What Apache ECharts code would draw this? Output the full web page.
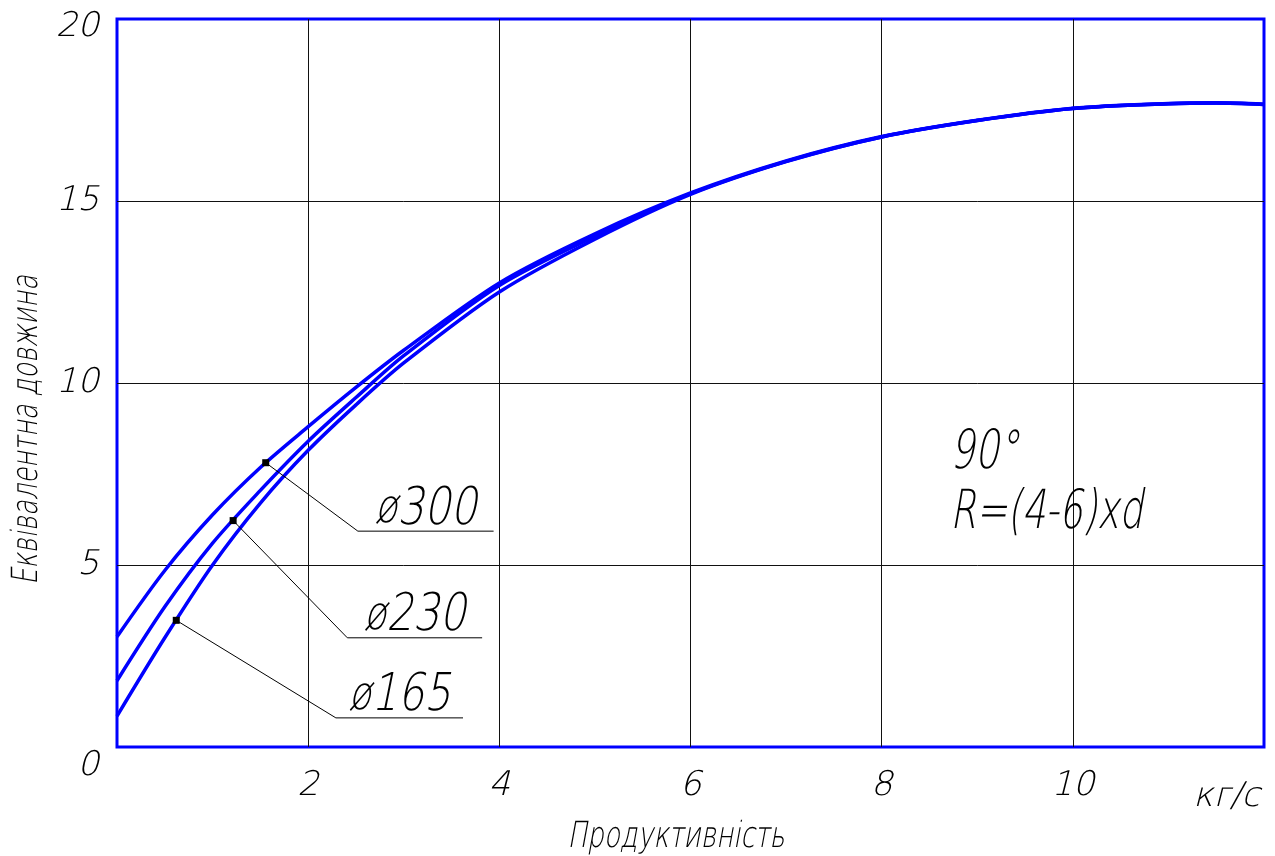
<!DOCTYPE html>
<html>
<head>
<meta charset="utf-8">
<script src="https://cdn.jsdelivr.net/npm/echarts@6/dist/echarts.min.js"></script>
<style>
html,body{margin:0;padding:0;background:#fff;}
#chart{width:1275px;height:856px;}
</style>
</head>
<body>
<div id="chart"></div>
<script>
// ---- data ----
const x300 = [0, 0.5, 1, 1.5, 2, 2.5, 3, 4, 5, 6, 7, 8, 9, 10, 11, 11.5, 12];
const y300 = [3.03, 4.85, 6.38, 7.68, 8.8, 9.88, 10.9, 12.75, 14.1, 15.22, 16.1, 16.77, 17.22, 17.55, 17.68, 17.7, 17.66];

const x230 = [0, 0.5, 1, 1.5, 2, 2.5, 3, 4, 5, 6, 7, 8, 9, 10, 11, 11.5, 12];
const y230 = [1.82, 3.85, 5.6, 7.05, 8.4, 9.6, 10.75, 12.68, 14.03, 15.2, 16.09, 16.76, 17.21, 17.54, 17.67, 17.69, 17.65];

const x165 = [0, 0.5, 1, 1.5, 2, 2.5, 3, 4, 5, 6, 7, 8, 9, 10, 11, 11.5, 12];
const y165 = [0.85, 3.0, 5.0, 6.7, 8.15, 9.4, 10.55, 12.5, 13.95, 15.18, 16.08, 16.76, 17.21, 17.54, 17.67, 17.69, 17.65];

const diamSign = 'ø';
const seriesNames = ['300', '230', '165'];
// leader annotations: [dot x, dot y, elbow x, elbow y, end x]
const leader300 = [1.556, 7.81, 2.52, 5.93, 3.94];
const leader230 = [1.215, 6.22, 2.41, 3.0, 3.82];
const leader165 = [0.62, 3.48, 2.29, 0.80, 3.62];

const xMin = 0, xMax = 12, xInterval = 2;
const yMin = 0, yMax = 20, yInterval = 5;

const xName = 'Продуктивність';
const yName = 'Еквівалентна довжина';
const unitText = 'кг/с';
const note1 = '90°';
const note2 = 'R=(4-6)xd';

// ---- build ----
const FONT = "'DejaVu Sans ExtraLight', 'DejaVu Sans Light', 'DejaVu Sans Condensed', 'DejaVu Sans', sans-serif";
const BLUE = '#0000ff';
const zip = (xs, ys) => xs.map((x, i) => [x, ys[i]]);

function curve(name, xs, ys) {
  return {
    name: diamSign + name, type: 'line', data: zip(xs, ys), smooth: 0.3,
    showSymbol: false, symbol: 'none', clip: true,
    lineStyle: { color: BLUE, width: 3.5 }, z: 3, silent: true
  };
}
function leader(L) {
  return [
    {
      type: 'line', data: [[L[0], L[1]], [L[2], L[3]], [L[4], L[3]]],
      symbol: 'none', lineStyle: { color: '#000', width: 1 }, z: 4, silent: true
    },
    {
      type: 'scatter', data: [[L[0], L[1]]], symbol: 'rect', symbolSize: 7,
      itemStyle: { color: '#000', opacity: 1 }, z: 5, silent: true
    }
  ];
}
function txt(text, x, y, size, sx, extra) {
  return Object.assign({
    type: 'text', x, y, scaleX: sx, silent: true, z: 10,
    style: Object.assign({
      text, font: "italic 200 " + size + "px " + FONT, fill: '#000',
      align: 'left', verticalAlign: 'top'
    }, (extra && extra.style) || {})
  }, extra ? { rotation: extra.rotation || 0 } : {});
}

const chart = echarts.init(document.getElementById('chart'), null, { renderer: 'canvas' });
const labelFont = { fontFamily: FONT, fontStyle: 'italic', fontWeight: 200, fontSize: 34, color: '#000' };
chart.setOption({
  backgroundColor: '#fff',
  animation: false,
  grid: {
    left: 117, right: 11, top: 19, bottom: 109, outerBoundsMode: 'none', containLabel: false,
    show: true, borderColor: BLUE, borderWidth: 3, backgroundColor: 'transparent'
  },
  xAxis: {
    type: 'value', min: xMin, max: xMax, interval: xInterval,
    axisLine: { show: false }, axisTick: { show: false },
    axisLabel: Object.assign({ showMinLabel: false, showMaxLabel: false, margin: 22 }, labelFont),
    splitLine: { show: true, showMinLine: false, showMaxLine: false, lineStyle: { color: '#111', width: 1 } }
  },
  yAxis: {
    type: 'value', min: yMin, max: yMax, interval: yInterval,
    axisLine: { show: false }, axisTick: { show: false },
    axisLabel: Object.assign({
      margin: 18,
      formatter: v => v === 0 ? '{z|0}' : (v === 20 ? '{t|20}' : String(v)),
      rich: {
        z: Object.assign({ padding: [38, 0, 0, 0] }, labelFont),
        t: Object.assign({ padding: [16, 0, 0, 0] }, labelFont)
      }
    }, labelFont),
    splitLine: { show: true, showMinLine: false, showMaxLine: false, lineStyle: { color: '#111', width: 1 } }
  },
  series: [
    curve(seriesNames[0], x300, y300),
    curve(seriesNames[1], x230, y230),
    curve(seriesNames[2], x165, y165),
    ...leader(leader300),
    ...leader(leader230),
    ...leader(leader165)
  ]
});

// texts (leader labels placed through the chart's own scales)
const graphics = [
  txt(unitText, 1193, 780, 34, 1.0),
  txt(note1, 950, 427, 54, 0.71),
  txt(note2, 950, 487, 54, 0.69),
  txt(xName, 676, 820, 36, 0.73, { style: { align: 'center' } }),
  txt(yName, 28, 430, 36, 0.715, { rotation: Math.PI / 2, style: { align: 'center', verticalAlign: 'middle' } })
];
[[seriesNames[0], leader300], [seriesNames[1], leader230], [seriesNames[2], leader165]].forEach(([name, L]) => {
  const p = chart.convertToPixel({ gridIndex: 0 }, [(L[2] + L[4]) / 2, L[3]]);
  graphics.push(txt('{d|' + diamSign + '}' + name, p[0], p[1] + 5, 52, 0.8, {
    style: {
      align: 'center', verticalAlign: 'bottom',
      rich: { d: { fontFamily: FONT, fontStyle: 'italic', fontWeight: 200, fontSize: 46, fill: '#000' } }
    }
  }));
});
chart.setOption({ graphic: graphics });
</script>
</body>
</html>
